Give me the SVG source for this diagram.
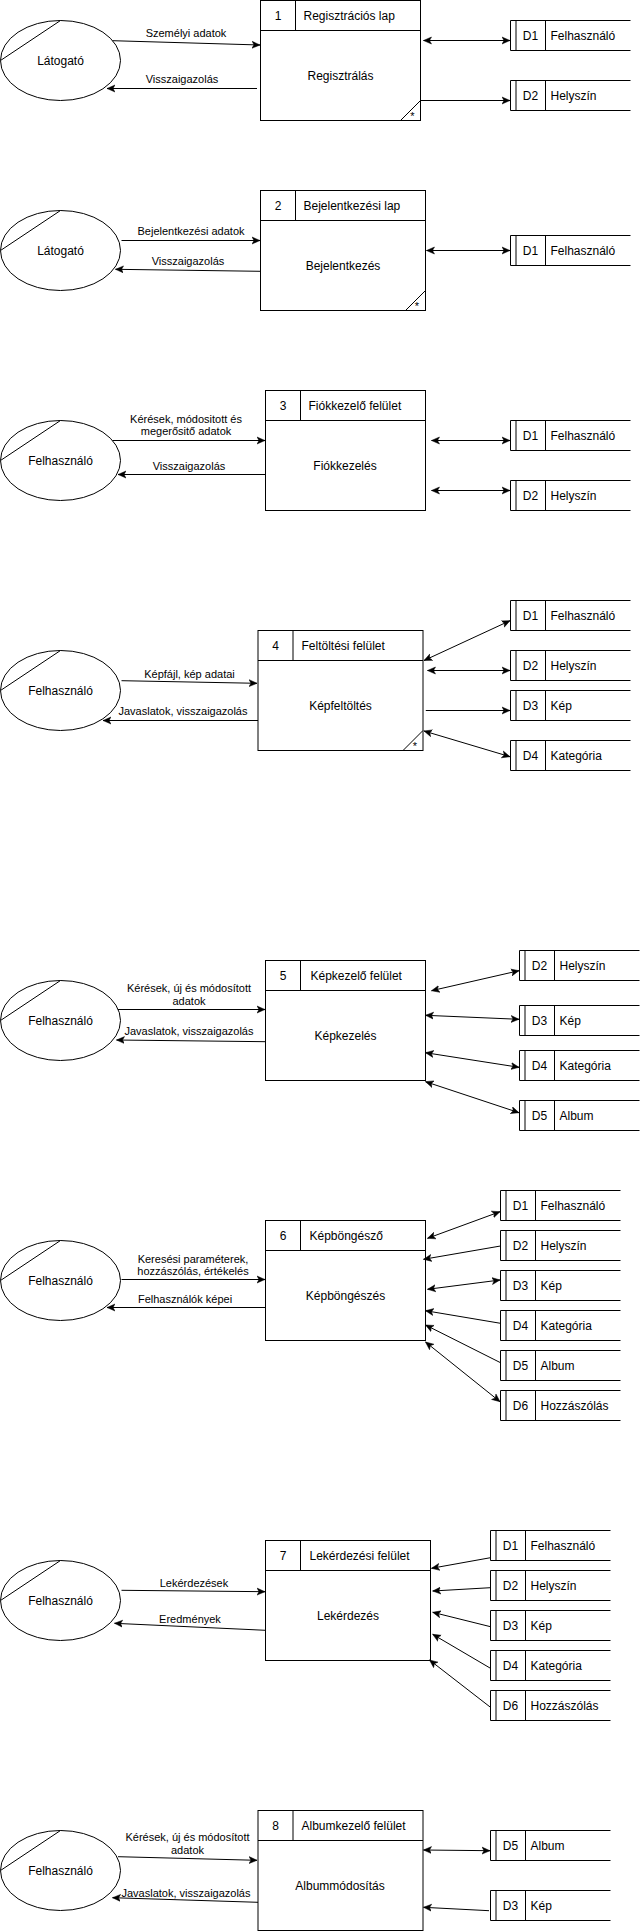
<svg xmlns="http://www.w3.org/2000/svg" width="641" height="1931" viewBox="0 0 641 1931">
<style>
text{font-family:"Liberation Sans",Arial,sans-serif;fill:#000}
.n{font-size:12px}
.c{text-anchor:middle}
.e{font-size:11px;text-anchor:middle}
.s{fill:#fff;stroke:#000;stroke-width:1}
.l{fill:none;stroke:#000;stroke-width:1}
.a{fill:none;stroke:#000;stroke-width:1;marker-end:url(#ah)}
.b{fill:none;stroke:#000;stroke-width:1;marker-start:url(#ah);marker-end:url(#ah)}
</style>
<defs>
<marker id="ah" markerUnits="userSpaceOnUse" markerWidth="10" markerHeight="10" refX="8" refY="4" orient="auto-start-reverse" viewBox="0 0 10 8">
<path d="M0,0.5 L8,4 L0,7.5 L2,4 Z" fill="#000" stroke="#000" stroke-width="0.5"/>
</marker>
</defs>
<rect width="641" height="1931" fill="#fff"/>

<!-- Section 1 -->
<g id="ent1"><ellipse class="s" cx="60.5" cy="60.5" rx="60" ry="40"/><path class="l" d="M60.5,20.5 L0.5,60.5"/><text class="n c" x="60.5" y="64.5">Látogató</text></g>
<g id="proc1"><rect class="s" x="260.5" y="0.5" width="160" height="120"/><path class="l" d="M260.5,30.5 H420.5 M295.5,0.5 V30.5 M420.5,100.5 L400.5,120.5"/><text class="n c" x="278" y="19.5">1</text><text class="n" x="303.5" y="19.5">Regisztrációs lap</text><text class="n c" x="340.5" y="80">Regisztrálás</text><text class="e" x="412.5" y="120">*</text></g>
<g id="s1d1"><path class="l" d="M630.5,20.5 H510.5 V50.5 H630.5 M516,20.5 V50.5 M545.5,20.5 V50.5"/><text class="n c" x="530.5" y="40">D1</text><text class="n" x="550.5" y="40">Felhasználó</text></g>
<g id="s1d2"><path class="l" d="M630.5,80.5 H510.5 V110.5 H630.5 M516,80.5 V110.5 M545.5,80.5 V110.5"/><text class="n c" x="530.5" y="100">D2</text><text class="n" x="550.5" y="100">Helyszín</text></g>

<!-- Section 2 -->
<g id="ent2"><ellipse class="s" cx="60.5" cy="250.5" rx="60" ry="40"/><path class="l" d="M60.5,210.5 L0.5,250.5"/><text class="n c" x="60.5" y="254.5">Látogató</text></g>
<g id="proc2"><rect class="s" x="260.5" y="190.5" width="165" height="120"/><path class="l" d="M260.5,220.5 H425.5 M295.5,190.5 V220.5 M425.5,290.5 L405.5,310.5"/><text class="n c" x="278" y="209.5">2</text><text class="n" x="303.5" y="209.5">Bejelentkezési lap</text><text class="n c" x="343" y="270">Bejelentkezés</text><text class="e" x="417" y="310">*</text></g>
<g id="s2d1"><path class="l" d="M630.5,235.5 H510.5 V265.5 H630.5 M516,235.5 V265.5 M545.5,235.5 V265.5"/><text class="n c" x="530.5" y="255">D1</text><text class="n" x="550.5" y="255">Felhasználó</text></g>

<!-- Section 3 -->
<g id="ent3"><ellipse class="s" cx="60.5" cy="460.5" rx="60" ry="40"/><path class="l" d="M60.5,420.5 L0.5,460.5"/><text class="n c" x="60.5" y="464.5">Felhasználó</text></g>
<g id="proc3"><rect class="s" x="265.5" y="390.5" width="160" height="120"/><path class="l" d="M265.5,420.5 H425.5 M300.5,390.5 V420.5"/><text class="n c" x="283" y="409.5">3</text><text class="n" x="308.5" y="409.5">Fiókkezelő felület</text><text class="n c" x="345" y="470">Fiókkezelés</text></g>
<g id="s3d1"><path class="l" d="M630.5,420.5 H510.5 V450.5 H630.5 M516,420.5 V450.5 M545.5,420.5 V450.5"/><text class="n c" x="530.5" y="440">D1</text><text class="n" x="550.5" y="440">Felhasználó</text></g>
<g id="s3d2"><path class="l" d="M630.5,480.5 H510.5 V510.5 H630.5 M516,480.5 V510.5 M545.5,480.5 V510.5"/><text class="n c" x="530.5" y="500">D2</text><text class="n" x="550.5" y="500">Helyszín</text></g>

<!-- Section 4 -->
<g id="ent4"><ellipse class="s" cx="60.5" cy="690.5" rx="60" ry="40"/><path class="l" d="M60.5,650.5 L0.5,690.5"/><text class="n c" x="60.5" y="694.5">Felhasználó</text></g>
<g id="proc4"><rect class="s" x="258" y="630.5" width="165" height="120"/><path class="l" d="M258,660.5 H423 M293,630.5 V660.5 M423,730.5 L403,750.5"/><text class="n c" x="275.5" y="649.5">4</text><text class="n" x="301.5" y="649.5">Feltöltési felület</text><text class="n c" x="340.5" y="710">Képfeltöltés</text><text class="e" x="415" y="750">*</text></g>
<g id="s4d1"><path class="l" d="M630.5,600.5 H510.5 V630.5 H630.5 M516,600.5 V630.5 M545.5,600.5 V630.5"/><text class="n c" x="530.5" y="620">D1</text><text class="n" x="550.5" y="620">Felhasználó</text></g>
<g id="s4d2"><path class="l" d="M630.5,650.5 H510.5 V680.5 H630.5 M516,650.5 V680.5 M545.5,650.5 V680.5"/><text class="n c" x="530.5" y="670">D2</text><text class="n" x="550.5" y="670">Helyszín</text></g>
<g id="s4d3"><path class="l" d="M630.5,690.5 H510.5 V720.5 H630.5 M516,690.5 V720.5 M545.5,690.5 V720.5"/><text class="n c" x="530.5" y="710">D3</text><text class="n" x="550.5" y="710">Kép</text></g>
<g id="s4d4"><path class="l" d="M630.5,740.5 H510.5 V770.5 H630.5 M516,740.5 V770.5 M545.5,740.5 V770.5"/><text class="n c" x="530.5" y="760">D4</text><text class="n" x="550.5" y="760">Kategória</text></g>

<!-- Section 5 -->
<g id="ent5"><ellipse class="s" cx="60.5" cy="1020.5" rx="60" ry="40"/><path class="l" d="M60.5,980.5 L0.5,1020.5"/><text class="n c" x="60.5" y="1024.5">Felhasználó</text></g>
<g id="proc5"><rect class="s" x="265.5" y="960.5" width="160" height="120"/><path class="l" d="M265.5,990.5 H425.5 M300.5,960.5 V990.5"/><text class="n c" x="283" y="979.5">5</text><text class="n" x="310.5" y="979.5">Képkezelő felület</text><text class="n c" x="345.5" y="1040">Képkezelés</text></g>
<g id="s5d2"><path class="l" d="M639.5,950.5 H519.5 V980.5 H639.5 M525,950.5 V980.5 M554.5,950.5 V980.5"/><text class="n c" x="539.5" y="970">D2</text><text class="n" x="559.5" y="970">Helyszín</text></g>
<g id="s5d3"><path class="l" d="M639.5,1005.5 H519.5 V1035.5 H639.5 M525,1005.5 V1035.5 M554.5,1005.5 V1035.5"/><text class="n c" x="539.5" y="1025">D3</text><text class="n" x="559.5" y="1025">Kép</text></g>
<g id="s5d4"><path class="l" d="M639.5,1050.5 H519.5 V1080.5 H639.5 M525,1050.5 V1080.5 M554.5,1050.5 V1080.5"/><text class="n c" x="539.5" y="1070">D4</text><text class="n" x="559.5" y="1070">Kategória</text></g>
<g id="s5d5"><path class="l" d="M639.5,1100.5 H519.5 V1130.5 H639.5 M525,1100.5 V1130.5 M554.5,1100.5 V1130.5"/><text class="n c" x="539.5" y="1120">D5</text><text class="n" x="559.5" y="1120">Album</text></g>

<!-- Section 6 -->
<g id="ent6"><ellipse class="s" cx="60.5" cy="1280.5" rx="60" ry="40"/><path class="l" d="M60.5,1240.5 L0.5,1280.5"/><text class="n c" x="60.5" y="1284.5">Felhasználó</text></g>
<g id="proc6"><rect class="s" x="265.5" y="1220.5" width="160" height="120"/><path class="l" d="M265.5,1250.5 H425.5 M300.5,1220.5 V1250.5"/><text class="n c" x="283" y="1239.5">6</text><text class="n" x="309.5" y="1239.5">Képböngésző</text><text class="n c" x="345.5" y="1300">Képböngészés</text></g>
<g id="s6d1"><path class="l" d="M620.5,1190.5 H500.5 V1220.5 H620.5 M506,1190.5 V1220.5 M535.5,1190.5 V1220.5"/><text class="n c" x="520.5" y="1210">D1</text><text class="n" x="540.5" y="1210">Felhasználó</text></g>
<g id="s6d2"><path class="l" d="M620.5,1230.5 H500.5 V1260.5 H620.5 M506,1230.5 V1260.5 M535.5,1230.5 V1260.5"/><text class="n c" x="520.5" y="1250">D2</text><text class="n" x="540.5" y="1250">Helyszín</text></g>
<g id="s6d3"><path class="l" d="M620.5,1270.5 H500.5 V1300.5 H620.5 M506,1270.5 V1300.5 M535.5,1270.5 V1300.5"/><text class="n c" x="520.5" y="1290">D3</text><text class="n" x="540.5" y="1290">Kép</text></g>
<g id="s6d4"><path class="l" d="M620.5,1310.5 H500.5 V1340.5 H620.5 M506,1310.5 V1340.5 M535.5,1310.5 V1340.5"/><text class="n c" x="520.5" y="1330">D4</text><text class="n" x="540.5" y="1330">Kategória</text></g>
<g id="s6d5"><path class="l" d="M620.5,1350.5 H500.5 V1380.5 H620.5 M506,1350.5 V1380.5 M535.5,1350.5 V1380.5"/><text class="n c" x="520.5" y="1370">D5</text><text class="n" x="540.5" y="1370">Album</text></g>
<g id="s6d6"><path class="l" d="M620.5,1390.5 H500.5 V1420.5 H620.5 M506,1390.5 V1420.5 M535.5,1390.5 V1420.5"/><text class="n c" x="520.5" y="1410">D6</text><text class="n" x="540.5" y="1410">Hozzászólás</text></g>

<!-- Section 7 -->
<g id="ent7"><ellipse class="s" cx="60.5" cy="1600.5" rx="60" ry="40"/><path class="l" d="M60.5,1560.5 L0.5,1600.5"/><text class="n c" x="60.5" y="1604.5">Felhasználó</text></g>
<g id="proc7"><rect class="s" x="265.5" y="1540.5" width="165" height="120"/><path class="l" d="M265.5,1570.5 H430.5 M300.5,1540.5 V1570.5"/><text class="n c" x="283" y="1559.5">7</text><text class="n" x="309.5" y="1559.5">Lekérdezési felület</text><text class="n c" x="348" y="1620">Lekérdezés</text></g>
<g id="s7d1"><path class="l" d="M610.5,1530.5 H490.5 V1560.5 H610.5 M496,1530.5 V1560.5 M525.5,1530.5 V1560.5"/><text class="n c" x="510.5" y="1550">D1</text><text class="n" x="530.5" y="1550">Felhasználó</text></g>
<g id="s7d2"><path class="l" d="M610.5,1570.5 H490.5 V1600.5 H610.5 M496,1570.5 V1600.5 M525.5,1570.5 V1600.5"/><text class="n c" x="510.5" y="1590">D2</text><text class="n" x="530.5" y="1590">Helyszín</text></g>
<g id="s7d3"><path class="l" d="M610.5,1610.5 H490.5 V1640.5 H610.5 M496,1610.5 V1640.5 M525.5,1610.5 V1640.5"/><text class="n c" x="510.5" y="1630">D3</text><text class="n" x="530.5" y="1630">Kép</text></g>
<g id="s7d4"><path class="l" d="M610.5,1650.5 H490.5 V1680.5 H610.5 M496,1650.5 V1680.5 M525.5,1650.5 V1680.5"/><text class="n c" x="510.5" y="1670">D4</text><text class="n" x="530.5" y="1670">Kategória</text></g>
<g id="s7d6"><path class="l" d="M610.5,1690.5 H490.5 V1720.5 H610.5 M496,1690.5 V1720.5 M525.5,1690.5 V1720.5"/><text class="n c" x="510.5" y="1710">D6</text><text class="n" x="530.5" y="1710">Hozzászólás</text></g>

<!-- Section 8 -->
<g id="ent8"><ellipse class="s" cx="60.5" cy="1870.5" rx="60" ry="40"/><path class="l" d="M60.5,1830.5 L0.5,1870.5"/><text class="n c" x="60.5" y="1874.5">Felhasználó</text></g>
<g id="proc8"><rect class="s" x="258" y="1810.5" width="165" height="120"/><path class="l" d="M258,1840.5 H423 M293,1810.5 V1840.5"/><text class="n c" x="275.5" y="1829.5">8</text><text class="n" x="301.5" y="1829.5">Albumkezelő felület</text><text class="n c" x="340" y="1890">Albummódosítás</text></g>
<g id="s8d5"><path class="l" d="M610.5,1830.5 H490.5 V1860.5 H610.5 M496,1830.5 V1860.5 M525.5,1830.5 V1860.5"/><text class="n c" x="510.5" y="1850">D5</text><text class="n" x="530.5" y="1850">Album</text></g>
<g id="s8d3"><path class="l" d="M610.5,1890.5 H490.5 V1920.5 H610.5 M496,1890.5 V1920.5 M525.5,1890.5 V1920.5"/><text class="n c" x="510.5" y="1910">D3</text><text class="n" x="530.5" y="1910">Kép</text></g>

<g id="connectors">
<path class="a" d="M112.5,40.7 L260,45"/>
<path class="a" d="M257,88.5 L107,88.5"/>
<path class="b" d="M423.5,40.5 L510,40.5"/>
<path class="a" d="M420.5,100.5 L510,100.5"/>

<path class="a" d="M121.5,240.5 L260,240.5"/>
<path class="a" d="M260.5,271.3 L115.5,269.3"/>
<path class="b" d="M426.5,250.5 L510,250.5"/>

<path class="a" d="M112.5,440.5 L265,440.5"/>
<path class="a" d="M265.5,474.5 L118,474.5"/>
<path class="b" d="M431.5,440.5 L510,440.5"/>
<path class="b" d="M431.5,490.5 L510,490.5"/>

<path class="a" d="M121.5,680.7 L257,683.3"/>
<path class="a" d="M258,720.5 L103,720.5"/>
<path class="b" d="M424,660.5 L510,620.7"/>
<path class="b" d="M427.5,670.5 L510,670.5"/>
<path class="a" d="M425.8,710.5 L510,710.5"/>
<path class="b" d="M424,731 L510,756.7"/>

<path class="a" d="M118,1009.5 L265,1009.5"/>
<path class="a" d="M265.5,1041.7 L116.5,1040"/>
<path class="b" d="M431.5,990.7 L519,970.7"/>
<path class="b" d="M425.5,1015.3 L519,1019.3"/>
<path class="b" d="M425.5,1052.7 L519,1067.3"/>
<path class="b" d="M425.5,1081.7 L519,1112.7"/>

<path class="a" d="M121.5,1279.5 L265,1279.5"/>
<path class="a" d="M265.5,1307.5 L107,1307.5"/>
<path class="b" d="M427.5,1238.3 L500,1211.7"/>
<path class="a" d="M500.5,1246 L423.5,1259.3"/>
<path class="b" d="M427.5,1289.3 L500,1280"/>
<path class="a" d="M500.5,1323.3 L425.5,1310.7"/>
<path class="a" d="M500.5,1362.7 L425.5,1325"/>
<path class="b" d="M425.5,1342 L500,1401.7"/>

<path class="a" d="M121.5,1590.3 L265,1591.7"/>
<path class="a" d="M265.5,1630.3 L114.5,1623.3"/>
<path class="a" d="M490.5,1557.7 L431.5,1568.3"/>
<path class="a" d="M490.5,1587.7 L432.7,1591"/>
<path class="a" d="M490.5,1626.7 L432.7,1612.3"/>
<path class="a" d="M490.5,1668.3 L432.7,1634.3"/>
<path class="a" d="M490.5,1707.3 L429.5,1660"/>

<path class="a" d="M118,1856.7 L257,1860.3"/>
<path class="a" d="M258,1902.3 L112.5,1897.7"/>
<path class="b" d="M423.5,1850 L490,1850.7"/>
<path class="a" d="M489,1910.7 L423.5,1907.3"/>
</g>

<g id="labels">
<text class="e" x="186" y="37">Személyi adatok</text>
<text class="e" x="182" y="83">Visszaigazolás</text>
<text class="e" x="191" y="235">Bejelentkezési adatok</text>
<text class="e" x="188" y="265">Visszaigazolás</text>
<text class="e" x="186" y="422.5">Kérések, módositott és</text>
<text class="e" x="186" y="435">megerősitő adatok</text>
<text class="e" x="189" y="469.5">Visszaigazolás</text>
<text class="e" x="189.5" y="677.5">Képfájl, kép adatai</text>
<text class="e" x="183" y="715">Javaslatok, visszaigazolás</text>
<text class="e" x="189" y="991.5">Kérések, új és módosított</text>
<text class="e" x="189" y="1005">adatok</text>
<text class="e" x="189" y="1035">Javaslatok, visszaigazolás</text>
<text class="e" x="193" y="1262.5">Keresési paraméterek,</text>
<text class="e" x="193" y="1274.5">hozzászólás, értékelés</text>
<text class="e" x="185" y="1302.5">Felhasználók képei</text>
<text class="e" x="194" y="1586.5">Lekérdezések</text>
<text class="e" x="190" y="1623">Eredmények</text>
<text class="e" x="187.5" y="1840.5">Kérések, új és módosított</text>
<text class="e" x="187.5" y="1854">adatok</text>
<text class="e" x="186" y="1896.5">Javaslatok, visszaigazolás</text>
</g>
</svg>
